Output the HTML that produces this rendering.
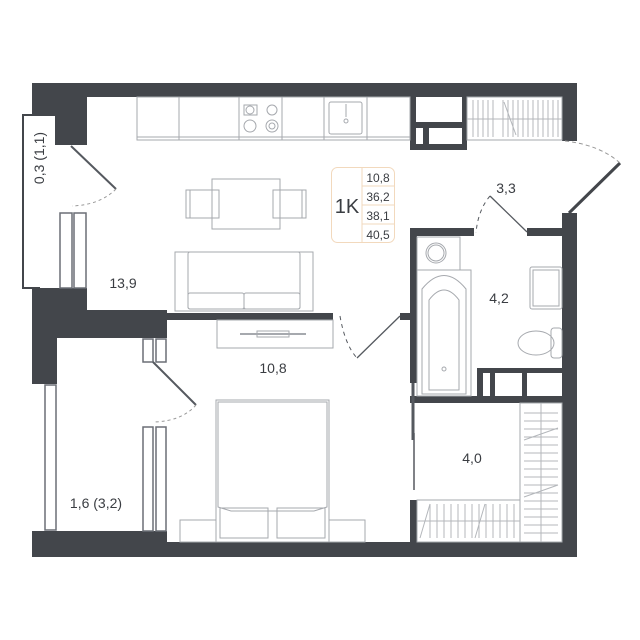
<!DOCTYPE html>
<html><head><meta charset="utf-8"><style>
html,body{margin:0;padding:0;background:#fff;}
svg{display:block;}
text{font-family:"Liberation Sans",sans-serif;fill:#3a3d42;}
</style></head><body>
<svg width="640" height="640" viewBox="0 0 640 640" xmlns="http://www.w3.org/2000/svg">
<g fill="#43464b">
<!-- top wall -->
<rect x="32" y="83" width="545" height="14"/>
<rect x="32" y="83" width="23" height="32"/>
<rect x="55" y="83" width="32" height="62"/>
<!-- left wall lower of living -->
<rect x="32" y="288" width="55" height="25"/>
<rect x="32" y="288" width="25" height="96"/>
<rect x="32" y="310" width="135" height="28"/>
<rect x="167" y="313" width="166" height="7"/>
<!-- bottom -->
<rect x="32" y="531" width="135" height="26"/>
<rect x="32" y="542" width="545" height="15"/>
<!-- right -->
<rect x="562" y="83" width="15" height="58"/>
<rect x="562" y="213" width="15" height="344"/>
<!-- kitchen storage block -->
<rect x="410" y="83" width="57" height="67"/>
<!-- bath walls -->
<rect x="400" y="313" width="17" height="7"/>
<rect x="410" y="228" width="64" height="8"/>
<rect x="527" y="228" width="36" height="8"/>
<rect x="410" y="228" width="7" height="155"/>
<rect x="410" y="500" width="7" height="45"/>
<rect x="477" y="368" width="86" height="35"/>
<rect x="410" y="396" width="153" height="7"/>
</g>
<g fill="#fff">
<rect x="416" y="97" width="46" height="25"/>
<rect x="416" y="128" width="7" height="16"/>
<rect x="429" y="128" width="33" height="16"/>
<rect x="483" y="373" width="7" height="23"/>
<rect x="495" y="373" width="27" height="23"/>
<rect x="527" y="373" width="35" height="23"/>
</g>
<g fill="none" stroke="#43464b">
<!-- balcony outlines -->
<polyline points="55,115 23,115 23,288 40,288" stroke-width="2"/>
</g>
<!-- windows -->
<g fill="#fff" stroke="#6b6f76" stroke-width="1.5">
<rect x="60" y="213" width="12" height="75"/><rect x="74" y="213" width="12" height="75"/>
<rect x="143" y="339" width="10" height="23"/><rect x="156" y="339" width="10" height="23"/>
<rect x="143" y="427" width="10" height="104"/><rect x="156" y="427" width="10" height="104"/>
<rect x="45" y="385" width="11" height="145"/>
</g>
<!-- doors -->
<g stroke="#55595f" fill="none">
<line x1="71" y1="146" x2="116" y2="189" stroke-width="2"/>
<path d="M116,189 Q100,205 72,206" stroke-dasharray="3,3" stroke="#999"/>
<line x1="153" y1="362" x2="196" y2="405" stroke-width="2"/>
<path d="M196,405 Q182,421 154,422" stroke-dasharray="3,3" stroke="#999"/>
<line x1="400" y1="316" x2="357" y2="358" stroke-width="1.3"/>
<path d="M340,316 Q345,345 357,358" stroke-dasharray="4,4"/>
<line x1="527" y1="232" x2="490" y2="196" stroke-width="1.3"/>
<path d="M490,196 Q478,210 476,233" stroke-dasharray="4,4"/>
<line x1="569" y1="213" x2="620" y2="163" stroke="#43464b" stroke-width="3"/>
<path d="M565,141 Q600,145 620,163" stroke-dasharray="4,3" stroke="#999"/>
<line x1="413" y1="383" x2="413" y2="440" stroke-width="3"/>
<line x1="414" y1="433" x2="414" y2="490" stroke-width="1.5"/>
</g>
<!-- furniture -->
<g fill="none" stroke="#a6a9ae" stroke-width="1">
<rect x="137" y="97" width="273" height="43"/>
<line x1="137" y1="137" x2="410" y2="137"/>
<line x1="179" y1="97" x2="179" y2="140"/><line x1="239" y1="97" x2="239" y2="140"/>
<line x1="282" y1="97" x2="282" y2="140"/><line x1="367" y1="97" x2="367" y2="140"/>
<line x1="324" y1="97" x2="324" y2="140"/>
<rect x="329" y="102" width="33" height="32" rx="2"/>
<rect x="244" y="105" width="13" height="10"/><circle cx="250" cy="110" r="4"/>
<circle cx="272" cy="110" r="5"/><circle cx="250" cy="126" r="6"/><circle cx="272" cy="126" r="6"/><circle cx="272" cy="126" r="3"/>
<line x1="346" y1="104" x2="346" y2="117"/><circle cx="346" cy="121" r="2"/>
<rect x="212" y="179" width="68" height="50"/>
<rect x="186" y="190" width="33" height="28"/><line x1="190" y1="190" x2="190" y2="218"/>
<rect x="273" y="190" width="33" height="28"/><line x1="302" y1="190" x2="302" y2="218"/>
<rect x="175" y="252" width="138" height="59"/>
<rect x="188" y="252" width="112" height="57" rx="2"/>
<rect x="188" y="293" width="56" height="16" rx="2"/><rect x="244" y="293" width="56" height="16" rx="2"/>
<rect x="217" y="320" width="116" height="28"/>
<line x1="240" y1="334" x2="306" y2="334" stroke-width="2"/>
<rect x="257" y="331" width="32" height="6"/>
<!-- bed -->
<rect x="216" y="400" width="113" height="142"/>
<path d="M218,402 H327 V507 L314,511 H231 L218,507 Z"/>
<rect x="220" y="508" width="48" height="30"/><rect x="277" y="508" width="48" height="30"/>
<rect x="180" y="520" width="36" height="22"/><rect x="329" y="520" width="36" height="22"/>
<!-- wardrobes -->
<rect x="467" y="97" width="95" height="43"/>
<rect x="520" y="403" width="42" height="139"/>
<rect x="417" y="500" width="103" height="42"/>
<!-- bath -->
<rect x="417" y="237" width="43" height="33"/>
<circle cx="436" cy="253" r="10"/><circle cx="436" cy="253" r="8"/>
<rect x="417" y="270" width="54" height="126"/>
<path d="M422,394 V289 Q444,262 466,289 V394 Z"/>
<path d="M429,390 V300 Q444,280 459,300 V390 Z"/>
<circle cx="444" cy="369" r="2"/>
<rect x="530" y="267" width="32" height="42" rx="2"/>
<rect x="533" y="270" width="26" height="36"/>
<ellipse cx="536" cy="343" rx="18" ry="12"/>
<rect x="551" y="328" width="11" height="30" rx="3"/>
</g>
<g stroke="#b4b7bb" stroke-width="1">
<path d="M473,100V137M478,100V137M483,100V137M488,100V137M493,100V137M503,100V137M508,100V137M513,100V137M518,100V137M523,100V137M528,100V137M533,100V137M538,100V137M543,100V137M548,100V137M553,100V137M558,100V137M467,119H562M504,102L516,135"/>
<path d="M541,403V542M524,413H558M524,421H558M524,429H558M524,437H558M524,445H558M524,453H558M524,461H558M524,469H558M524,477H558M524,485H558M524,493H558M524,501H558M524,509H558M524,517H558M524,525H558M524,533H558M524,440L558,428M524,497L558,485"/>
<path d="M430,504V538M437,504V538M444,504V538M451,504V538M458,504V538M465,504V538M472,504V538M479,504V538M486,504V538M493,504V538M500,504V538M507,504V538M514,504V538M417,521H520M420,538L430,504M475,538L485,504"/>
</g>
<!-- badge -->
<rect x="331.5" y="167.5" width="63" height="75" rx="6" fill="#fff" stroke="#f2d9bd"/>
<g stroke="#f2d9bd"><line x1="362" y1="168" x2="362" y2="242"/><line x1="362" y1="186" x2="394" y2="186"/><line x1="362" y1="205" x2="394" y2="205"/><line x1="362" y1="224" x2="394" y2="224"/></g>
<text x="347" y="213" font-size="20" text-anchor="middle">1K</text>
<g font-size="12" text-anchor="middle"><text x="378" y="182">10,8</text><text x="378" y="201">36,2</text><text x="378" y="220">38,1</text><text x="378" y="239">40,5</text></g>
<!-- labels -->
<g font-size="14">
<text x="123" y="288" text-anchor="middle">13,9</text>
<text x="273" y="373" text-anchor="middle">10,8</text>
<text x="96" y="508" text-anchor="middle">1,6 (3,2)</text>
<text x="506" y="193" text-anchor="middle">3,3</text>
<text x="499" y="303" text-anchor="middle">4,2</text>
<text x="472" y="463" text-anchor="middle">4,0</text>
<text transform="translate(44,158) rotate(-90)" text-anchor="middle">0,3 (1,1)</text>
</g>
</svg>
</body></html>
